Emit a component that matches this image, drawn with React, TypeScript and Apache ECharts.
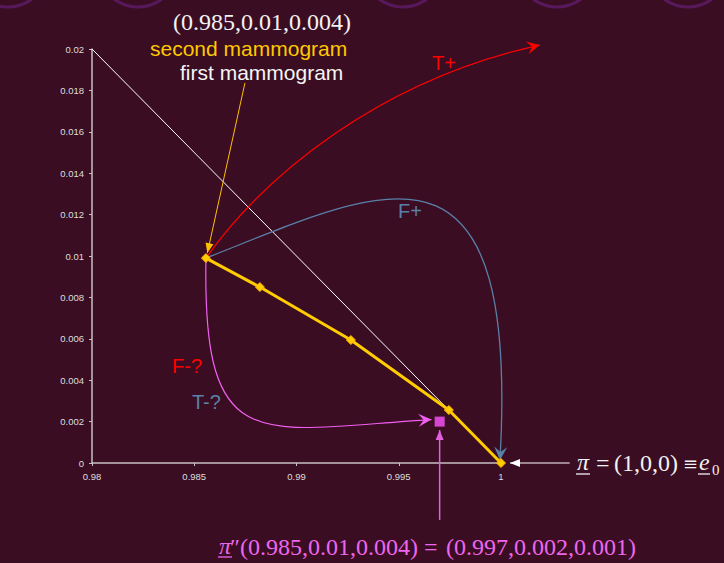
import { useEffect, useRef } from "react";
import * as echarts from "echarts";

// Axis ranges and ticks
const xTickValues = [0.98, 0.985, 0.99, 0.995, 1];
const yMin = 0;
const yMax = 0.02;
const yStep = 0.002;

// Belief trajectory (first component, second component)
const beliefPath = [
  [0.98557, 0.0099],
  [0.98821, 0.0085],
  [0.99266, 0.00594],
  [0.99745, 0.00256],
  [1, 0],
];

// Edge of the simplex
const simplexEdge = [
  [0.98, 0.02],
  [1, 0],
];

// Updated belief after a negative result
const posteriorPoint = [[0.997, 0.002]];

// Transition arrows: straight (2 points) or cubic Bezier (4 points) in data space
type Arrow = { pts: number[][]; color: string; width: number; head: "stealth" | "triangle"; size: number };
const transitions: Arrow[] = [
  { pts: [[0.98557, 0.0099], [0.98846, 0.01391], [0.99408, 0.0185], [1.0019, 0.02019]], color: "#ff0000", width: 1.2, head: "stealth", size: 13 },
  { pts: [[0.98557, 0.0099], [0.99408, 0.01319], [1.00092, 0.01705], [0.99995, 0.00015]], color: "#5b80a8", width: 1.3, head: "stealth", size: 13 },
  { pts: [[0.98557, 0.00971], [0.98543, 0.000145], [0.98821, 0.00159], [0.9966, 0.0021]], color: "#f060f0", width: 1.2, head: "stealth", size: 13 },
  { pts: [[0.98748, 0.01836], [0.98564, 0.01014]], color: "#ffc000", width: 1, head: "triangle", size: 10 },
  { pts: [[0.997, -0.00275], [0.997, 0.00159]], color: "#e060e0", width: 1.5, head: "triangle", size: 10 },
  { pts: [[1.00336, 0], [1.00044, 0]], color: "#ffffff", width: 1, head: "triangle", size: 10 },
];

const serif = "'Liberation Serif', 'Times New Roman', serif";
const sans = "'Liberation Sans', Arial, sans-serif";

function txt(text: string, x: number, y: number, fill: string, fontSize: number, family: string, extra: any = {}) {
  return {
    type: "text",
    x,
    y,
    silent: true,
    style: {
      text,
      fill,
      fontSize,
      fontFamily: family,
      align: extra.align || "left",
      textAlign: extra.align || "left",
      verticalAlign: "middle",
      textVerticalAlign: "middle",
      fontStyle: extra.italic ? "italic" : "normal",
    },
  };
}

export default function App() {
  const ref = useRef<HTMLDivElement>(null);

  useEffect(() => {
    if (!ref.current) return;
    const chart = echarts.init(ref.current, undefined, { renderer: "svg" });

    const decoCircles = [8, 138, 403, 557, 688].map((cx) => ({
      type: "circle",
      silent: true,
      shape: { cx, cy: -33, r: 40 },
      style: { fill: "none", stroke: "#58195c", lineWidth: 3 },
    }));

    const mathColor = "#f2f2f2";
    const pink = "#ee66ee";

    const option: any = {
      animation: false,
      backgroundColor: "#3a0d22",
      grid: { left: 92, top: 49, width: 409, height: 414, containLabel: false, outerBoundsMode: "none" },
      xAxis: {
        type: "value",
        min: 0.98,
        max: 1,
        interval: 0.005,
        axisLine: { show: true, onZero: false, lineStyle: { color: "#c8c0c4", width: 1.5 } },
        axisTick: { show: true, length: 3, lineStyle: { color: "#c8c0c4" } },
        splitLine: { show: false },
        axisLabel: {
          color: "#dddddd",
          fontSize: 9.5,
          fontFamily: sans,
          margin: 8,
          formatter: (v: number) => {
            const hit = xTickValues.find((t) => Math.abs(t - v) < 1e-9);
            return hit === undefined ? "" : String(hit);
          },
        },
      },
      yAxis: {
        type: "value",
        min: yMin,
        max: yMax,
        interval: yStep,
        axisLine: { show: true, onZero: false, lineStyle: { color: "#c8c0c4", width: 1.5 } },
        axisTick: { show: true, length: 3, lineStyle: { color: "#c8c0c4" } },
        splitLine: { show: false },
        axisLabel: {
          color: "#dddddd",
          fontSize: 9.5,
          fontFamily: sans,
          margin: 8,
          formatter: (v: number) => String(parseFloat(v.toFixed(4))),
        },
      },
      series: [
        {
          type: "line",
          data: simplexEdge,
          symbol: "none",
          lineStyle: { color: "#ffffff", width: 1 },
          z: 1,
          silent: true,
        },
        {
          type: "custom",
          coordinateSystem: "cartesian2d",
          clip: false,
          silent: true,
          z: 2,
          encode: { x: 0, y: 1 },
          data: transitions.map((a, i) => [a.pts[0][0], a.pts[0][1], i]),
          renderItem: (_params: any, api: any) => {
            const a = transitions[api.value(2) as number];
            const p = a.pts.map((pt) => api.coord(pt));
            const children: any[] = [];
            const stroke = { stroke: a.color, lineWidth: a.width, fill: "none" };
            if (p.length === 4) {
              children.push({
                type: "bezierCurve",
                shape: {
                  x1: p[0][0], y1: p[0][1],
                  cpx1: p[1][0], cpy1: p[1][1],
                  cpx2: p[2][0], cpy2: p[2][1],
                  x2: p[3][0], y2: p[3][1],
                },
                style: stroke,
              });
            } else {
              children.push({
                type: "line",
                shape: { x1: p[0][0], y1: p[0][1], x2: p[1][0], y2: p[1][1] },
                style: stroke,
              });
            }
            const tip = p[p.length - 1];
            const prev = p[p.length - 2];
            let dx = tip[0] - prev[0];
            let dy = tip[1] - prev[1];
            const len = Math.hypot(dx, dy) || 1;
            dx /= len;
            dy /= len;
            const nx = -dy;
            const ny = dx;
            const L = a.size;
            const W = a.head === "stealth" ? a.size * 0.5 : a.size * 0.4;
            const bx = tip[0] - dx * L;
            const by = tip[1] - dy * L;
            const pts: number[][] = [tip, [bx + nx * W, by + ny * W]];
            if (a.head === "stealth") pts.push([tip[0] - dx * L * 0.6, tip[1] - dy * L * 0.6]);
            pts.push([bx - nx * W, by - ny * W]);
            children.push({ type: "polygon", shape: { points: pts }, style: { fill: a.color } });
            return { type: "group", children };
          },
        },
        {
          type: "line",
          data: beliefPath,
          symbol: "diamond",
          symbolSize: 9,
          lineStyle: { color: "#ffcc00", width: 3 },
          itemStyle: { color: "#ffcc00", borderColor: "#ffb000", borderWidth: 1 },
          z: 3,
          silent: true,
        },
        {
          type: "scatter",
          data: posteriorPoint,
          symbol: "rect",
          symbolSize: 10,
          itemStyle: { color: "#ff55ff" },
          z: 4,
          silent: true,
        },
      ],
      graphic: [
        ...decoCircles,
        txt("(0.985,0.01,0.004)", 173, 22, mathColor, 24, serif),
        txt("second mammogram", 150, 48, "#ffc800", 21, sans),
        txt("first mammogram", 180, 72, "#f5f5f5", 21, sans),
        txt("T+", 432, 63, "#ff0000", 20, sans),
        txt("F+", 398, 211, "#5b80a8", 20, sans),
        txt("F-?", 172, 366, "#ff0000", 20, sans),
        txt("T-?", 192, 402, "#5b80a8", 20, sans),
        // π = (1,0,0) ≡ e0
        txt("π", 577, 462, mathColor, 24, serif, { italic: true }),
        txt("=", 596, 463, mathColor, 24, serif),
        txt("(1,0,0)", 614, 463, mathColor, 24, serif),
        txt("≡", 683, 463, mathColor, 18, "'DejaVu Serif', serif"),
        txt("e", 699, 462, mathColor, 24, serif, { italic: true }),
        txt("0", 712, 470, mathColor, 15, serif),
        { type: "line", silent: true, shape: { x1: 576, y1: 474, x2: 590, y2: 474 }, style: { stroke: mathColor, lineWidth: 1.3 } },
        { type: "line", silent: true, shape: { x1: 698, y1: 474, x2: 710, y2: 474 }, style: { stroke: mathColor, lineWidth: 1.3 } },
        // π″(...) = (...)
        txt("π", 219, 546, pink, 24, serif, { italic: true }),
        txt("″(0.985,0.01,0.004)", 230, 547, pink, 24, serif),
        txt("=", 424, 547, pink, 24, serif),
        txt("(0.997,0.002,0.001)", 446, 547, pink, 24, serif),
        { type: "line", silent: true, shape: { x1: 218, y1: 557, x2: 232, y2: 557 }, style: { stroke: pink, lineWidth: 1.3 } },
      ],
    };

    chart.setOption(option);
    return () => chart.dispose();
  }, []);

  return <div ref={ref} style={{ position: "fixed", left: 0, top: 0, width: 724, height: 563 }} />;
}
